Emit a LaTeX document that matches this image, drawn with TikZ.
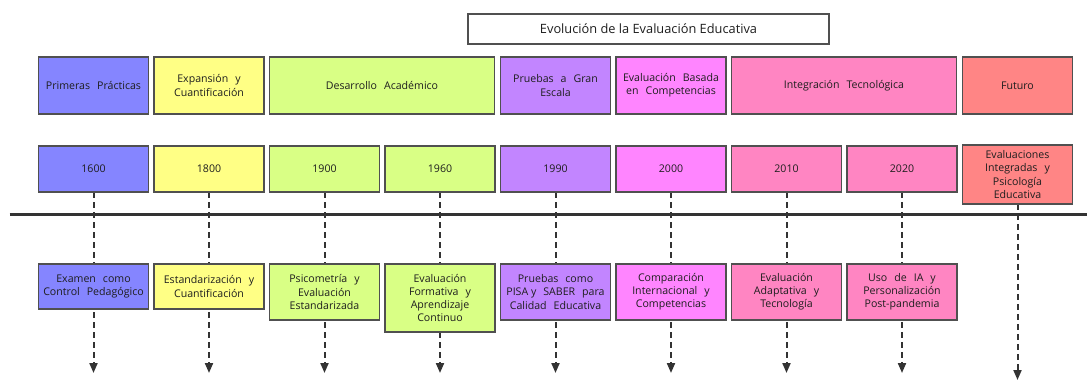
\documentclass[tikz,border=0pt]{standalone}
\usepackage{fontspec}
\setmainfont{Open Sans}
\usetikzlibrary{arrows.meta}
\definecolor{cA}{HTML}{8585FF}
\definecolor{cB}{HTML}{FFFF85}
\definecolor{cC}{HTML}{D9FF85}
\definecolor{cD}{HTML}{C285FF}
\definecolor{cE}{HTML}{FF85FF}
\definecolor{cF}{HTML}{FF85C2}
\definecolor{cG}{HTML}{FF8585}
\definecolor{bordc}{HTML}{505050}
\definecolor{txtc}{HTML}{1E1E1E}
\definecolor{linec}{HTML}{333333}
\newcommand{\W}{\hspace{7pt}}
\pgfdeclarelayer{bg}
\pgfsetlayers{bg,main}
\begin{document}
\begin{tikzpicture}[x=1pt,y=-1pt,
  box/.style={draw=bordc, line width=1.3pt, inner sep=0pt, outer sep=0pt, anchor=north west,
    minimum width=110pt, align=center, font=\fontsize{10.6}{13.2}\selectfont, text=txtc},
  titlebox/.style={draw=bordc, fill=white, line width=1.3pt, inner sep=0pt, outer sep=0pt, anchor=north west,
    minimum width=361pt, minimum height=30pt, font=\fontsize{12.8}{15}\selectfont, text=txtc},
  dasharrow/.style={draw=linec, line width=2pt, dash pattern=on 6pt off 4pt,
    -{Triangle[width=8pt,length=10pt]}},
  timeline/.style={draw=linec, line width=3pt}]
\useasboundingbox (0,0) rectangle (1087,380);

% title
\node[titlebox] (title) at (468,14) {Evolución de la Evaluación Educativa};

% periods
\node[box, fill=cA, minimum height=57pt] (p1) at (38.5,57) {Primeras\W Prácticas};
\node[box, fill=cB, minimum height=57pt] (p2) at (154,57) {Expansión\W y\\Cuantificación};
\node[box, fill=cC, minimum height=57pt, minimum width=225pt] (p3) at (269.5,57) {Desarrollo\W Académico};
\node[box, fill=cD, minimum height=57pt] (p4) at (500.5,57) {Pruebas\W a\W Gran\\Escala};
\node[box, fill=cE, minimum height=57pt] (p5) at (616,57) {Evaluación\W Basada\\en\W Competencias};
\node[box, fill=cF, minimum height=57pt, minimum width=225pt] (p6) at (731.5,57) {Integración\W Tecnológica};
\node[box, fill=cG, minimum height=57pt] (p7) at (962.5,57) {Futuro};

% years
\node[box, fill=cA, minimum height=46pt] (y1) at (38.5,146) {1600};
\node[box, fill=cB, minimum height=46pt] (y2) at (154,146) {1800};
\node[box, fill=cC, minimum height=46pt] (y3) at (269.5,146) {1900};
\node[box, fill=cC, minimum height=46pt] (y4) at (385,146) {1960};
\node[box, fill=cD, minimum height=46pt] (y5) at (500.5,146) {1990};
\node[box, fill=cE, minimum height=46pt] (y6) at (616,146) {2000};
\node[box, fill=cF, minimum height=46pt] (y7) at (731.5,146) {2010};
\node[box, fill=cF, minimum height=46pt] (y8) at (847,146) {2020};
\node[box, fill=cG, minimum height=59pt] (y9) at (962.5,145) {Evaluaciones\\Integradas\W y\\Psicología\\Educativa};

% events
\node[box, fill=cA, minimum height=45pt] (e1) at (38.5,264) {Examen\W como\\Control\W Pedagógico};
\node[box, fill=cB, minimum height=45pt] (e2) at (154,264) {Estandarización\W y\\Cuantificación};
\node[box, fill=cC, minimum height=56pt] (e3) at (269.5,264) {Psicometría\W y\\Evaluación\\Estandarizada};
\node[box, fill=cC, minimum height=68pt] (e4) at (385,264) {Evaluación\\Formativa\W y\\Aprendizaje\\Continuo};
\node[box, fill=cD, minimum height=56pt] (e5) at (500.5,264) {Pruebas\W como\\PISA y\W SABER\W para\\Calidad\W Educativa};
\node[box, fill=cE, minimum height=56pt] (e6) at (616,264) {Comparación\\Internacional\W y\\Competencias};
\node[box, fill=cF, minimum height=56pt] (e7) at (731.5,264) {Evaluación\\Adaptativa\W y\\Tecnología};
\node[box, fill=cF, minimum height=56pt] (e8) at (847,264) {Uso\W de\W IA\W y\\Personalización\\Post-pandemia};

% arrow ends
\coordinate (t1) at (93.5,373);
\coordinate (t2) at (209,373);
\coordinate (t3) at (324.5,373);
\coordinate (t4) at (440,373);
\coordinate (t5) at (555.5,373);
\coordinate (t6) at (671,373);
\coordinate (t7) at (786.5,373);
\coordinate (t8) at (902,373);
\coordinate (t9) at (1017.5,380);
\coordinate (tlL) at (9.5,214);
\coordinate (tlR) at (1087,214);

\begin{pgfonlayer}{bg}
\fill[white] (0,0) rectangle (1087,380);
\foreach \i in {1,...,9} {\draw[dasharrow] (y\i.south) -- (t\i);}
\draw[timeline] (tlL) -- (tlR);
\end{pgfonlayer}
\end{tikzpicture}
\end{document}
